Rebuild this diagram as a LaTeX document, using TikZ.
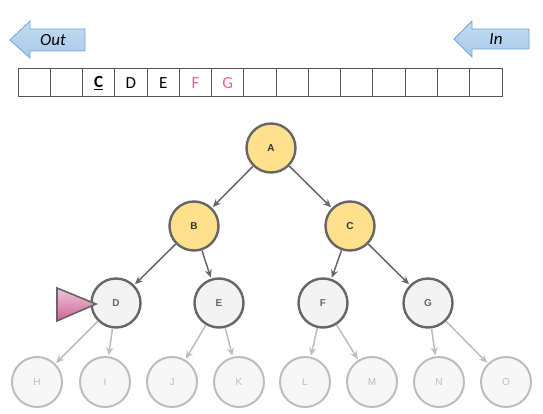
\documentclass[tikz,border=0pt]{standalone}
\usepackage{fontspec}
\setmainfont{Carlito}
\newfontfamily\nodefont{Liberation Sans}
\usetikzlibrary{arrows.meta}
\definecolor{yel}{HTML}{FFE08C}
\definecolor{dk}{HTML}{666666}
\definecolor{lt}{HTML}{BDBDBD}
\definecolor{nodegray}{HTML}{F3F3F3}
\definecolor{pinktxt}{HTML}{EC5CA4}
\definecolor{cellline}{HTML}{555555}
\definecolor{arrowfill}{HTML}{A7CAEA}
\definecolor{arrowfilltop}{HTML}{C4DCF2}
\definecolor{arrowedge}{HTML}{6FA6DA}
\definecolor{pinktop}{HTML}{F0C6D8}
\definecolor{pinkbot}{HTML}{CC6496}
\tikzset{
  cell/.style={draw=cellline, line width=1pt, minimum width=32.27pt, minimum height=28pt, inner sep=0pt},
  qtext/.style={font=\fontsize{17}{17}\selectfont, inner sep=0pt},
  hot/.style={circle, draw=dk, line width=2.4pt, fill=yel, minimum size=49pt, inner sep=0pt, font=\nodefont\fontsize{10}{10}\selectfont\bfseries, text=black!80},
  mid/.style={circle, draw=dk, line width=2.4pt, fill=nodegray, minimum size=49pt, inner sep=0pt, font=\nodefont\fontsize{10}{10}\selectfont\bfseries, text=dk},
  cold/.style={circle, draw=lt, line width=2pt, fill=nodegray!70, minimum size=50pt, inner sep=0pt, font=\nodefont\fontsize{10}{10}\selectfont, text=lt},
  darkedge/.style={draw=dk, line width=1.5pt, -{Stealth[length=8pt,width=7pt]}, shorten >=1pt},
  lightedge/.style={draw=lt, line width=1.5pt, -{Stealth[length=8pt,width=7pt]}, shorten >=1pt},
  blockarrow/.style={draw=arrowedge, line width=0.8pt, top color=arrowfilltop, bottom color=arrowfill},
  arrowlabel/.style={font=\fontsize{17}{17}\selectfont\itshape, inner sep=0pt}
}
\begin{document}
\begin{tikzpicture}[x=1pt,y=-1pt]
\useasboundingbox (0,0) rectangle (543,414);
% Out / In arrows
\draw[blockarrow] (10,40) -- (30,21) -- (30,29) -- (85,29) -- (85,51) -- (30,51) -- (30,58) -- cycle;
\node[arrowlabel] (out) at (53,40) {Out};
\draw[blockarrow] (454,39) -- (472,21) -- (472,29) -- (529,29) -- (529,49) -- (472,49) -- (472,57) -- cycle;
\node[arrowlabel] (in) at (496,39) {In};
% queue
\foreach \i in {1,...,15} {
  \node[cell] (q\i) at ({18+32.27*(\i-0.5)},83) {};
}
\node[qtext, font=\fontsize{17}{17}\selectfont\bfseries] (lc) at (q3) {\underline{C}};
\node[qtext] (ld) at (q4) {D};
\node[qtext] (le) at (q5) {E};
\node[qtext, text=pinktxt] (lf) at (q6) {F};
\node[qtext, text=pinktxt] (lg) at (q7) {G};
% tree
\node[hot] (A) at (271,148) {A};
\node[hot] (B) at (194,226) {B};
\node[hot] (C) at (350,226) {C};
\node[mid] (D) at (116,303) {D};
\node[mid] (E) at (219,303) {E};
\node[mid] (F) at (323,303) {F};
\node[mid] (G) at (428,303) {G};
\node[cold] (H) at (37,382) {H};
\node[cold] (I) at (105,382) {I};
\node[cold] (J) at (172,382) {J};
\node[cold] (K) at (239,382) {K};
\node[cold] (L) at (305,382) {L};
\node[cold] (M) at (372,382) {M};
\node[cold] (N) at (439,382) {N};
\node[cold] (O) at (506,382) {O};
\draw[darkedge] (A) -- (B);
\draw[darkedge] (A) -- (C);
\draw[darkedge] (B) -- (D);
\draw[darkedge] (B) -- (E);
\draw[darkedge] (C) -- (F);
\draw[darkedge] (C) -- (G);
\draw[lightedge] (D) -- (H);
\draw[lightedge] (D) -- (I);
\draw[lightedge] (E) -- (J);
\draw[lightedge] (E) -- (K);
\draw[lightedge] (F) -- (L);
\draw[lightedge] (F) -- (M);
\draw[lightedge] (G) -- (N);
\draw[lightedge] (G) -- (O);
% pointer triangle
\draw[draw=dk, line width=1.6pt, line join=miter, top color=pinktop, bottom color=pinkbot] (57,288) -- (96,304) -- (57,321) -- cycle;
\end{tikzpicture}
\end{document}
